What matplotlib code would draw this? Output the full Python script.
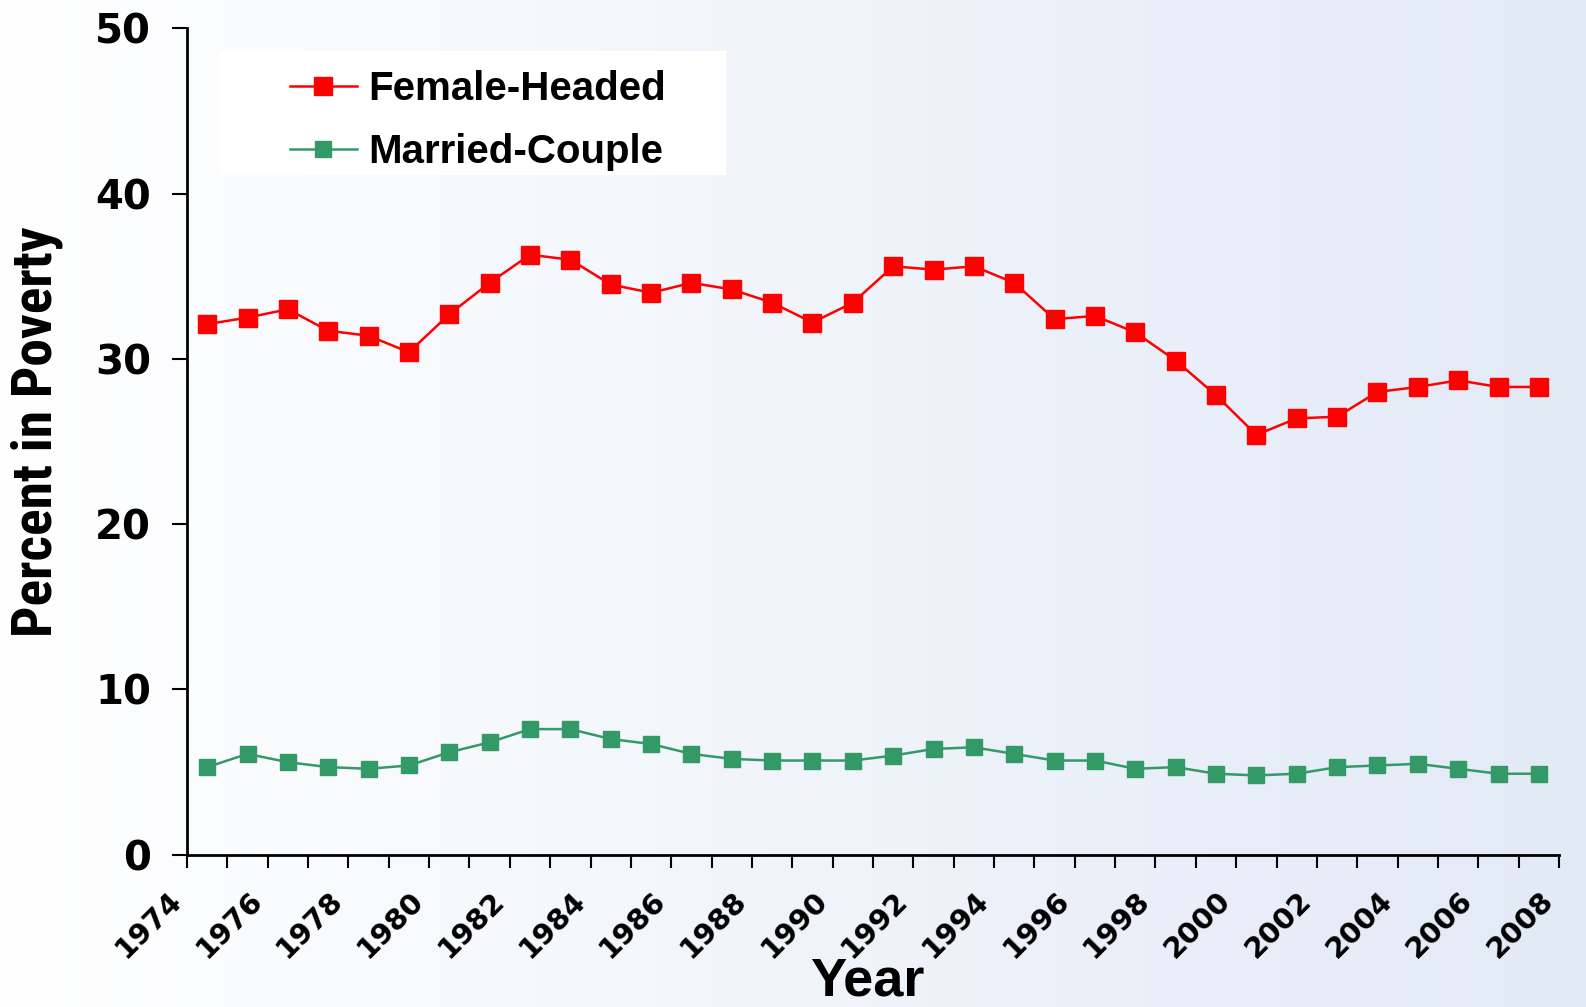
import numpy as np
import matplotlib
matplotlib.use('Agg')
import matplotlib.pyplot as plt
from matplotlib.colors import LinearSegmentedColormap
from matplotlib.patches import Rectangle
from matplotlib.transforms import ScaledTranslation

years = list(range(1974, 2008))
female_headed = [32.1, 32.5, 33.0, 31.7, 31.4, 30.4, 32.7, 34.6, 36.3, 36.0,
                 34.5, 34.0, 34.6, 34.2, 33.4, 32.2, 33.4, 35.6, 35.4, 35.6,
                 34.6, 32.4, 32.6, 31.6, 29.9, 27.8, 25.4, 26.4, 26.5, 28.0,
                 28.3, 28.7, 28.3, 28.3]
married_couple = [5.3, 6.1, 5.6, 5.3, 5.2, 5.4, 6.2, 6.8, 7.6, 7.6,
                  7.0, 6.7, 6.1, 5.8, 5.7, 5.7, 5.7, 6.0, 6.4, 6.5,
                  6.1, 5.7, 5.7, 5.2, 5.3, 4.9, 4.8, 4.9, 5.3, 5.4,
                  5.5, 5.2, 4.9, 4.9]
label_years = list(range(1974, 2009, 2))
y_ticks = [0, 10, 20, 30, 40, 50]

fig = plt.figure(figsize=(15.86, 10.07), dpi=100)

# horizontal white -> light blue background
bg = fig.add_axes([0, 0, 1, 1], zorder=-10)
cmap = LinearSegmentedColormap.from_list('bg', ['#ffffff', '#e2eaf6'])
bg.imshow(np.linspace(0, 1, 256)[None, :], aspect='auto', cmap=cmap,
          extent=[0, 1, 0, 1])
bg.axis('off')

ax = fig.add_axes([0.1179, 0.1512, 0.8651, 0.8207])
ax.set_facecolor('none')

# points sit in the middle of each year's category
xs = np.array(years) + 0.5
ax.plot(xs, female_headed, color='#ff0000', lw=1.8, marker='s', ms=12.5,
        label='Female-Headed', zorder=3)
ax.plot(xs, married_couple, color='#339966', lw=1.8, marker='s', ms=11,
        label='Married-Couple', zorder=3)

ax.set_xlim(1974, 2008)
ax.set_ylim(0, 50)
for s in ['top', 'right']:
    ax.spines[s].set_visible(False)
for s in ['left', 'bottom']:
    ax.spines[s].set_linewidth(2)
    ax.spines[s].set_color('black')

ax.set_yticks(y_ticks)
ax.set_yticklabels([str(v) for v in y_ticks], fontsize=29, fontweight='bold',
                   family='DejaVu Sans')
ax.tick_params(axis='y', length=11, width=1.5, pad=15)

ax.set_xticks(label_years)
ax.set_xticks(range(1975, 2008, 2), minor=True)
ax.set_xticklabels([str(v) for v in label_years], fontsize=21,
                   fontweight='bold', family='DejaVu Sans', rotation=45,
                   ha='right', va='center', rotation_mode='anchor')
ax.tick_params(axis='x', which='both', length=9, width=1.5, pad=21)
shift = ScaledTranslation(-7 / 72, 0, fig.dpi_scale_trans)
for lab in ax.get_xticklabels():
    lab.set_transform(lab.get_transform() + shift)

# white box behind the legend
ax.add_patch(Rectangle((0.024, 0.8225), 0.369, 0.15, transform=ax.transAxes,
                       facecolor='white', edgecolor='none', zorder=1))
ax.legend(loc='upper left', bbox_to_anchor=(0.1829, 0.930),
          bbox_transform=fig.transFigure, frameon=False, borderpad=0,
          borderaxespad=0, handlelength=1.65, handletextpad=0.3,
          labelspacing=0.62,
          prop={'family': 'Liberation Sans', 'weight': 'bold', 'size': 29})

fig.text(37 / 1586, 1 - 432 / 1007, 'Percent in Poverty', rotation=90,
         ha='center', va='center', fontsize=40, fontweight='bold',
         family=['Liberation Sans Narrow', 'Roboto Condensed', 'Liberation Sans'])
fig.text(0.547, 0.0, 'Year', ha='center', va='bottom', fontsize=39,
         fontweight='bold', family='Liberation Sans')

fig.savefig('out.png', dpi=100)
